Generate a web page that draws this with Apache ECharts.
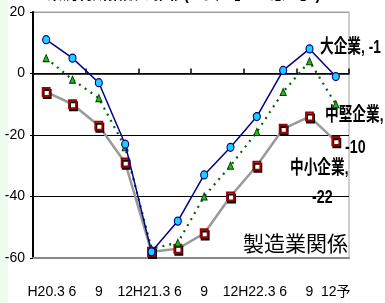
<!DOCTYPE html>
<html><head><meta charset="utf-8">
<script src="https://cdn.jsdelivr.net/npm/echarts@6/dist/echarts.min.js"></script>
<style>html,body{margin:0;padding:0;background:#fff}#c{width:385px;height:303px}</style>
</head><body><div id="c"></div>
<script>
const categories = ['H20.3','6','9','12','H21.3','6','9','12','H22.3','6','9','12予'];
const largeVals  = [11, 5, -3, -23, -58, -48, -33, -24, -14, 1, 8, -1];
const mediumVals = [5, -2, -8, -24, -57, -55, -40, -30, -19, -6, 4, -10];
const smallVals  = [-6, -10, -17, -29, -58, -57, -52, -40, -30, -18, -14, -22];
const yTicks = [-60, -40, -20, 0, 20];

const chart = echarts.init(document.getElementById('c'), null, {renderer:'canvas'});
const narrow = "'Liberation Sans','Noto Sans CJK JP',sans-serif";
const cjk = "'Liberation Sans','Noto Sans CJK JP',sans-serif";
function lbl(text, left, top, size, weight, sx){
  return {type:'text',left:left,top:top,scaleX:sx,style:{text:text,font:weight+' '+size+'px '+cjk,fill:'#000'}};
}
chart.setOption({
  animation:false,
  backgroundColor:'#fff',
  grid:{left:33,right:36,top:12,bottom:45,show:true,borderColor:'#a0a0a0',borderWidth:1},
  graphic:[
    {type:'rect',left:0,top:0,shape:{width:8,height:303},style:{fill:'#eefcee'},z:-10},
    lbl('業況判断指数の推移(「良い」-「悪い」)',47,-16,19,'bold',0.8),
    lbl('大企業, -1',320,38,19,'bold',0.72),
    lbl('中堅企業,',325,106,19,'bold',0.72),
    lbl('-10',345,138,19,'bold',0.75),
    lbl('中小企業,',290,159,19,'bold',0.72),
    lbl('-22',312,188,19,'bold',0.75),
    lbl('製造業関係',243,235,21,'normal',1)
  ],
  xAxis:[
    {type:'category',data:categories,boundaryGap:true,
     axisLine:{onZero:true,lineStyle:{color:'#000',width:1.5}},
     axisTick:{show:true,inside:true,length:5,lineStyle:{color:'#000',width:1.5}},
     axisLabel:{show:false},splitLine:{show:false}},
    {type:'category',data:categories,boundaryGap:true,position:'bottom',
     axisLine:{onZero:false,lineStyle:{color:'#888',width:2}},
     axisTick:{show:false},
     axisLabel:{show:true,color:'#000',fontFamily:narrow,fontSize:14,margin:27,interval:0}}
  ],
  yAxis:{type:'value',min:yTicks[0],max:yTicks[yTicks.length-1],interval:20,
    axisLine:{show:true,lineStyle:{color:'#000',width:2}},
    axisTick:{show:true,length:3,lineStyle:{color:'#000'}},
    axisLabel:{color:'#000',fontFamily:narrow,fontSize:14,margin:8},
    splitLine:{show:true,lineStyle:{color:['#888','#000','#000','#000','#a0a0a0'],width:1}}},
  series:[
    {name:'中小企業',type:'line',data:smallVals,
     lineStyle:{color:'#999',width:2.5},
     symbol:'rect',symbolSize:[7,8],
     itemStyle:{color:'#fff',borderColor:'#a00000',borderWidth:2,shadowColor:'#000',shadowOffsetX:1,shadowOffsetY:2,shadowBlur:0},z:3},
    {name:'中堅企業',type:'line',data:mediumVals,
     lineStyle:{color:'#006400',width:2.2,type:[2,5]},
     symbol:'triangle',symbolSize:[6,7],
     itemStyle:{color:'#22bb22',borderColor:'#004000',borderWidth:1},z:4},
    {name:'大企業',type:'line',data:largeVals,
     lineStyle:{color:'#00008b',width:1.5},
     symbol:'circle',symbolSize:[7,8],
     itemStyle:{color:'#22ccff',borderColor:'#00008b',borderWidth:1.2},z:5}
  ]
});
</script></body></html>
